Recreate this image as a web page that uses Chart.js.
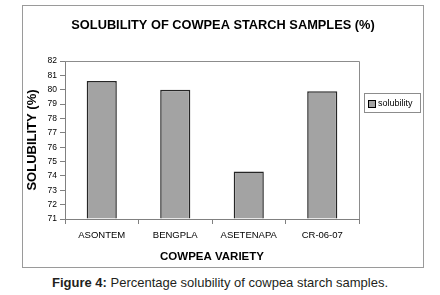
<!DOCTYPE html>
<html>
<head>
<meta charset="utf-8">
<script src="https://cdn.jsdelivr.net/npm/chart.js@4"></script>
<style>
  html, body { margin: 0; padding: 0; background: #fff; }
  #wrap { position: relative; width: 440px; height: 295px; overflow: hidden; }
  #chart { position: absolute; left: 0; top: 0; }
  #caption {
    position: absolute; left: 0; top: 275px; width: 440px; text-align: center;
    font: 13px "Liberation Sans", Arial, sans-serif; color: #231f20;
  }
  #caption b { font-weight: bold; }
</style>
</head>
<body>
<div id="wrap">
  <canvas id="chart" width="440" height="272"></canvas>
  <div id="caption"><b>Figure 4:</b> Percentage solubility of cowpea starch samples.</div>
</div>
<script>
// Chart data
const varieties = ['ASONTEM', 'BENGPLA', 'ASETENAPA', 'CR-06-07'];
const solubility = [80.6, 80.0, 74.3, 79.9];
const yMin = 71;
const yMax = 82;

const FONT = '"Liberation Sans", Arial, sans-serif';

// Frame, plot border, title and boxed legend
const decorations = {
  id: 'decorations',
  afterDraw(chart) {
    const ctx = chart.ctx;
    const a = chart.chartArea;
    ctx.save();

    // outer frame
    ctx.strokeStyle = '#9a9a9a';
    ctx.lineWidth = 1;
    ctx.strokeRect(22.5, 5.5, 401, 262);

    // top and right edges of plot area
    ctx.strokeStyle = '#8c8c8c';
    ctx.beginPath();
    ctx.moveTo(a.left, a.top + 0.5);
    ctx.lineTo(a.right + 0.5, a.top + 0.5);
    ctx.lineTo(a.right + 0.5, a.bottom);
    ctx.stroke();

    // title
    ctx.fillStyle = '#000';
    ctx.font = 'bold 12.8px ' + FONT;
    ctx.textAlign = 'center';
    ctx.textBaseline = 'middle';
    ctx.fillText('SOLUBILITY OF COWPEA STARCH SAMPLES (%)', 223, 25);

    // legend
    const ds = chart.data.datasets[0];
    ctx.strokeStyle = '#8c8c8c';
    ctx.strokeRect(364.5, 93.5, 56, 19);
    ctx.fillStyle = ds.backgroundColor;
    ctx.fillRect(368, 100, 7, 7);
    ctx.strokeStyle = '#000';
    ctx.strokeRect(368.5, 100.5, 7, 7);
    ctx.fillStyle = '#000';
    ctx.font = '9px ' + FONT;
    ctx.textAlign = 'left';
    ctx.fillText(ds.label, 378, 104);

    ctx.restore();
  }
};

new Chart(document.getElementById('chart'), {
  type: 'bar',
  data: {
    labels: varieties,
    datasets: [{
      label: 'solubility',
      data: solubility,
      base: yMin,
      backgroundColor: '#a3a3a3',
      borderColor: '#262626',
      borderWidth: 1.5,
      borderSkipped: 'start',
      barPercentage: 0.41,
      categoryPercentage: 1
    }]
  },
  options: {
    responsive: false,
    animation: false,
    layout: { padding: { left: 0, top: 61, right: 81, bottom: 0 } },
    plugins: {
      legend: { display: false },
      title: { display: false },
      tooltip: { enabled: false }
    },
    scales: {
      x: {
        grid: { offset: true, drawOnChartArea: false, tickLength: 5, color: '#808080' },
        border: { color: '#808080' },
        ticks: { color: '#000', font: { family: FONT, size: 9.5 }, padding: 6, maxRotation: 0 },
        title: {
          display: true, text: 'COWPEA VARIETY', color: '#000',
          font: { family: FONT, size: 11.5, weight: 'bold' },
          padding: { top: 0, bottom: 8 }
        },
        afterFit(scale) { scale.height = 53; }
      },
      y: {
        min: yMin,
        max: yMax,
        grid: { drawOnChartArea: false, tickLength: 5, color: '#808080' },
        border: { color: '#808080' },
        ticks: { stepSize: 1, color: '#000', font: { family: FONT, size: 8.5 }, padding: 3 },
        title: {
          display: true, text: 'SOLUBILITY (%)', color: '#000',
          font: { family: FONT, size: 13, weight: 'bold' },
          padding: { top: 25, bottom: 0 }
        },
        afterFit(scale) { scale.width = 65; }
      }
    }
  },
  plugins: [decorations]
});
</script>
</body>
</html>
